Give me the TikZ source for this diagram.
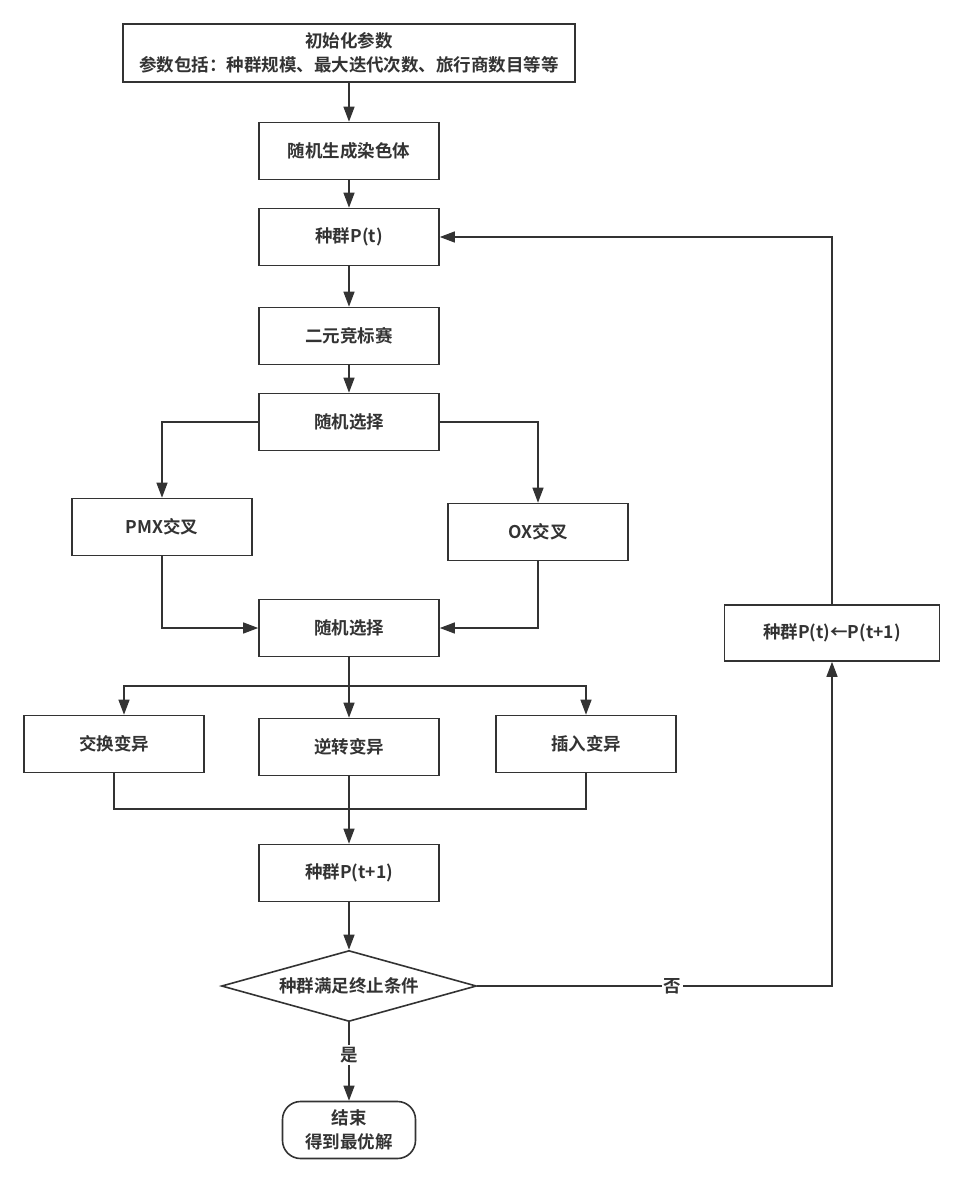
\documentclass[tikz,border=0pt]{standalone}
\usepackage{fontspec}
\newfontfamily\cjk{Noto Sans CJK SC}[BoldFont={Noto Sans CJK SC Bold}]
\definecolor{ink}{RGB}{51,51,51}
\usetikzlibrary{arrows.meta,shapes.geometric}

\begin{document}
\begin{tikzpicture}[x=1pt,y=-1pt,
    every node/.style={font=\cjk\bfseries\fontsize{17.5}{24}\selectfont,text=ink},
    box/.style={draw=ink,line width=1.6pt,fill=white,minimum width=180pt,minimum height=57pt,inner sep=0pt,align=center},
    flow/.style={draw=ink,line width=1.3pt,-{Triangle[length=15pt,width=11pt]}},
    link/.style={draw=ink,line width=1.3pt}]
  \useasboundingbox (0,0) rectangle (965,1184);
  % main column
  \node[box,minimum width=452pt,minimum height=58pt] (init) at (349,53) {初始化参数\\参数包括：种群规模、最大迭代次数、旅行商数目等等};
  \node[box] (chrom) at (349,151) {随机生成染色体};
  \node[box] (pop) at (349,237) {种群P(t)};
  \node[box] (tourn) at (349,336) {二元竞标赛};
  \node[box] (sel1) at (349,422) {随机选择};
  \node[box] (pmx) at (162,527) {PMX交叉};
  \node[box] (ox) at (538,532) {OX交叉};
  \node[box] (sel2) at (349,628) {随机选择};
  \node[box] (swap) at (114,744) {交换变异};
  \node[box] (inv) at (349,747) {逆转变异};
  \node[box] (ins) at (586,744) {插入变异};
  \node[box] (newpop) at (349,873) {种群P(t+1)};
  \node[box,shape=diamond,aspect=3.6,minimum width=255pt,minimum height=71pt] (cond) at (349,986) {种群满足终止条件};
  \node[box,rounded corners=18pt,minimum width=133pt] (endn) at (349,1130) {结束\\得到最优解};
  \node[box,minimum width=215pt,minimum height=56pt] (update) at (832,633) {种群P(t)←P(t+1)};
  \coordinate (split) at (349,686);
  \coordinate (join) at (349,809);
  % connectors
  \draw[flow] (init) -- (chrom);
  \draw[flow] (chrom) -- (pop);
  \draw[flow] (pop) -- (tourn);
  \draw[flow] (tourn) -- (sel1);
  \draw[flow] (sel1.west) -| (pmx.north);
  \draw[flow] (sel1.east) -| (ox.north);
  \draw[flow] (pmx.south) |- (sel2.west);
  \draw[flow] (ox.south) |- (sel2.east);
  \draw[flow] (sel2) -- (inv);
  \draw[flow] (split) -| ([xshift=10pt]swap.north);
  \draw[flow] (split) -| (ins.north);
  \draw[link] (swap.south) |- (join);
  \draw[link] (ins.south) |- (join);
  \draw[flow] (inv) -- (newpop);
  \draw[flow] (newpop) -- (cond);
  \draw[flow] (cond) -- node[pos=0.42,fill=white,inner sep=2pt]{是} (endn);
  \draw[flow] (cond.east) -| node[pos=0.275,fill=white,inner sep=2pt]{否} (update.south);
  \draw[flow] (update.north) |- (pop.east);
\end{tikzpicture}
\end{document}
